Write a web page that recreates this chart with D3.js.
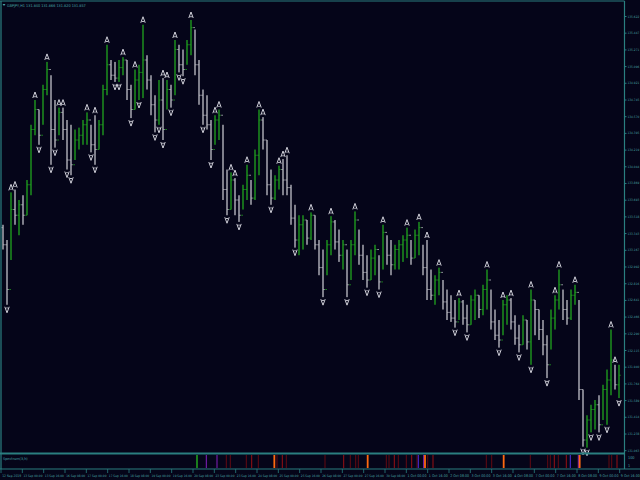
<!DOCTYPE html>
<html><head><meta charset="utf-8">
<script src="https://cdn.jsdelivr.net/npm/d3@7"></script>
<style>html,body{margin:0;padding:0;background:#050519;}svg{display:block;}</style>
</head><body>
<script>
// ---------- DATA ----------
const symbolTitle = "GBPJPY,H1  131.840 131.866 131.820 131.857";
const indicatorName = "Spectrum(3,h)";
// 3-hour bars starting 12 Sep 2019 08:00
const highs = [133.43,133.27,133.77,133.80,133.69,133.74,133.90,134.48,134.74,134.64,
134.90,135.14,135.00,134.74,134.66,134.66,134.53,134.48,134.43,134.45,
134.53,134.61,134.48,134.58,134.53,134.90,135.32,135.16,135.14,135.16,
135.19,135.16,134.90,135.06,135.11,135.53,135.21,135.00,134.79,134.95,
134.97,134.95,134.90,135.37,135.32,135.27,135.37,135.58,135.48,135.16,
134.85,134.79,134.53,134.58,134.64,134.48,134.01,133.98,133.92,133.74,
133.85,134.06,133.90,134.22,134.64,134.56,134.32,134.01,133.95,134.05,
134.12,134.16,133.85,133.64,133.53,133.53,133.48,133.56,133.53,133.27,
133.17,133.27,133.52,133.48,133.38,133.27,133.17,133.27,133.57,133.38,
133.22,133.11,133.17,133.22,133.11,133.43,133.32,133.27,133.22,133.27,
133.32,133.40,133.27,133.38,133.46,133.22,133.27,132.96,132.90,132.98,
132.85,132.75,132.69,132.64,132.66,132.64,132.59,132.69,132.75,132.69,
132.80,132.96,132.75,132.54,132.43,132.64,132.69,132.66,132.48,132.38,
132.48,132.43,132.75,132.64,132.54,132.43,132.27,132.54,132.69,132.96,
132.75,132.64,132.75,132.80,132.64,131.70,131.43,131.54,131.59,131.64,
131.75,131.91,132.33,131.96,131.96];
const lows = [133.17,132.59,133.06,133.43,133.32,133.43,133.53,133.74,134.37,134.27,
134.48,134.79,134.06,134.24,134.37,134.32,134.01,133.95,134.11,134.22,
134.27,134.27,134.19,134.06,134.22,134.37,134.79,134.95,134.93,134.93,
135.00,134.74,134.55,134.64,134.74,134.76,134.85,134.58,134.40,134.48,
134.32,134.64,134.66,134.79,135.03,134.99,135.11,135.21,135.00,134.69,
134.48,134.43,134.11,134.27,134.32,133.69,133.53,133.59,133.53,133.46,
133.59,133.69,133.64,133.69,133.95,134.22,133.74,133.64,133.69,133.80,
133.74,133.74,133.43,133.19,133.11,133.17,133.22,133.27,133.17,132.90,
132.67,132.90,133.11,133.17,133.04,132.96,132.67,132.85,133.11,133.01,
132.85,132.77,132.85,132.90,132.75,132.96,133.01,132.90,132.96,132.96,
133.04,133.08,133.01,133.08,133.11,132.90,132.64,132.64,132.59,132.69,
132.54,132.43,132.41,132.35,132.43,132.38,132.30,132.38,132.43,132.45,
132.48,132.54,132.33,132.22,132.14,132.27,132.38,132.33,132.17,132.09,
132.17,132.12,131.96,132.27,132.22,132.06,131.82,132.12,132.33,132.54,
132.43,132.38,132.43,132.59,131.59,131.10,131.09,131.25,131.28,131.25,
131.38,131.33,131.64,131.70,131.61];
const closes = [133.22,132.75,133.59,133.53,133.64,133.53,133.85,134.43,134.64,134.37,
134.85,135.06,134.43,134.32,134.61,134.43,134.11,134.06,134.32,134.37,
134.48,134.53,134.27,134.22,134.48,134.85,135.11,135.00,134.97,135.08,
135.16,134.85,134.64,134.95,135.03,135.16,134.95,134.69,134.53,134.74,
134.43,134.85,134.74,135.27,135.11,135.06,135.32,135.50,135.11,134.79,
134.58,134.48,134.22,134.53,134.58,133.80,133.59,133.90,133.69,133.53,
133.80,133.95,133.71,134.16,134.53,134.32,133.85,133.71,133.90,134.01,
133.90,133.82,133.50,133.27,133.43,133.48,133.29,133.53,133.22,132.98,
132.75,133.22,133.46,133.25,133.11,133.22,132.80,133.22,133.48,133.11,
132.93,132.85,133.08,133.17,132.83,133.35,133.11,133.01,133.17,133.22,
133.27,133.32,133.08,133.32,133.40,132.98,132.75,132.69,132.85,132.93,
132.62,132.51,132.45,132.41,132.62,132.45,132.38,132.64,132.69,132.54,
132.75,132.85,132.41,132.27,132.22,132.59,132.64,132.41,132.24,132.17,
132.43,132.20,132.64,132.54,132.33,132.17,131.96,132.45,132.64,132.80,
132.54,132.45,132.69,132.72,131.70,131.17,131.38,131.49,131.54,131.33,
131.70,131.80,132.01,131.75,131.85];
const firstOpen = 133.40;
const fractalUp = [2,3,8,11,14,15,21,23,26,30,33,35,40,41,43,47,53,54,57,58,61,64,65,69,70,71,77,82,88,95,101,104,106,109,114,121,125,127,132,138,139,143,152,153];
const fractalDown = [1,9,12,13,16,17,22,23,28,29,32,34,38,39,40,42,44,45,50,52,56,59,67,73,80,86,91,94,113,116,124,129,132,136,145,146,147,149,151,154];
const priceTicks = [135.622,135.447,135.271,135.096,134.921,134.745,134.570,134.395,134.219,134.044,133.869,133.693,133.518,133.343,133.167,132.992,132.816,132.641,132.466,132.290,132.115,131.940,131.764,131.589,131.414,131.238,131.063];
const timeLabels = ["12 Sep 2019","13 Sep 00:00","13 Sep 16:00","16 Sep 08:00","17 Sep 00:00","17 Sep 16:00","18 Sep 08:00","19 Sep 00:00","19 Sep 16:00","20 Sep 08:00","23 Sep 00:00","23 Sep 16:00","24 Sep 08:00","25 Sep 00:00","25 Sep 16:00","26 Sep 08:00","27 Sep 00:00","27 Sep 16:00","30 Sep 08:00","1 Oct 00:00","1 Oct 16:00","2 Oct 08:00","3 Oct 00:00","3 Oct 16:00","4 Oct 08:00","7 Oct 00:00","7 Oct 16:00","8 Oct 08:00","9 Oct 00:00","9 Oct 16:00"];
// indicator: hour index (H1 bars) and level
const specHours = [147,154,162,169,172,184,188,193,205,207,211,214,243,257,262,266,268,275,289,291,295,298,304,308,312,313,317,318,320,324,364,368,377,397,410,412,415,418,424,427,433,434,456,458,462];
const specLevels = [5,4,4,1,1,1,2,1,3,1,2,1,1,2,1,1,1,3,1,1,2,1,1,2,1,6,4,3,1,2,1,1,3,1,1,1,2,1,2,6,4,3,1,1,2];
const specTicks = ["100","1"];

// ---------- LAYOUT ----------
const W = 640, H = 480;
const axisCol = "#2a7f80", textCol = "#46a3a3";
const FS = 3.8;
const FONT = "'Liberation Sans Narrow','DejaVu Sans Condensed','Arial Narrow',sans-serif";
const svg = d3.select("body").append("svg").attr("width", W).attr("height", H)
  .style("font-family", FONT);
svg.append("rect").attr("width", W).attr("height", H).attr("fill", "#050519");

// shrink a text until its natural width fits
function fit(sel, maxW) {
  sel.each(function () {
    const len = this.getComputedTextLength();
    if (len > maxW) d3.select(this).attr("font-size", FS * maxW / len);
  });
}

const totalHours = 466.5;
const xh = d3.scaleLinear().domain([0, totalHours]).range([1, 623]);
const y = d3.scaleLinear().domain([131.063, 135.622]).range([450.2, 16]);
const ySub = d3.scaleLinear().domain([0, 1]).range([468, 455]);

const bars = highs.map((h, i) => ({
  i, high: h, low: lows[i], close: closes[i],
  open: i === 0 ? firstOpen : closes[i - 1]
}));
const upCol = "#1f9a1f", dnCol = "#b4b4bc";
const cx = i => xh(3 * i + 1.5);
const colOf = d => d.close >= d.open ? upCol : dnCol;

const plot = svg.append("g");
plot.selectAll("rect.bar").data(bars).enter().append("rect")
  .attr("x", d => cx(d.i) - 0.7).attr("width", 1.4)
  .attr("y", d => y(d.high)).attr("height", d => Math.max(1, y(d.low) - y(d.high)))
  .attr("fill", colOf);
plot.selectAll("line.o").data(bars).enter().append("line")
  .attr("x1", d => cx(d.i) - 1.8).attr("x2", d => cx(d.i))
  .attr("y1", d => y(d.open)).attr("y2", d => y(d.open))
  .attr("stroke", colOf).attr("stroke-width", 0.8);
plot.selectAll("line.c").data(bars).enter().append("line")
  .attr("x1", d => cx(d.i)).attr("x2", d => cx(d.i) + 1.8)
  .attr("y1", d => y(d.close)).attr("y2", d => y(d.close))
  .attr("stroke", colOf).attr("stroke-width", 0.8);

// fractals
const fc = "#e6e6ee";
plot.selectAll("path.fu").data(fractalUp).enter().append("path")
  .attr("transform", i => `translate(${cx(i)},${y(highs[i]) - 5})`)
  .attr("d", "M-2.2,3 L0,-3 L2.2,3 M-1,1.2 L0,2.2 L1,1.2")
  .attr("fill", "none").attr("stroke", fc).attr("stroke-width", 0.9);
plot.selectAll("path.fd").data(fractalDown).enter().append("path")
  .attr("transform", i => `translate(${cx(i)},${y(lows[i]) + 5})`)
  .attr("d", "M-2.2,-3 L0,3 L2.2,-3 M-1,-1.2 L0,-2.2 L1,-1.2")
  .attr("fill", "none").attr("stroke", fc).attr("stroke-width", 0.9);

// indicator subwindow
const levelColor = d3.scaleOrdinal().domain([1,2,3,4,5,6])
  .range(["#5c0a12", "#8c0f14", "#ff6a10", "#7a1fb0", "#1e8c1e", "#4a2ad0"]);
svg.append("g").selectAll("line").data(specHours).enter().append("line")
  .attr("x1", d => xh(d)).attr("x2", d => xh(d))
  .attr("y1", ySub(1)).attr("y2", ySub(0))
  .attr("stroke", (d, k) => levelColor(specLevels[k]))
  .attr("stroke-width", (d, k) => (specLevels[k] === 3 || specLevels[k] === 5) ? 1.8 : 1.1);

// frames
const frame = svg.append("g").attr("stroke", axisCol).attr("fill", "none");
frame.append("line").attr("x1", 0).attr("x2", 624.5).attr("y1", 1).attr("y2", 1).attr("stroke-width", 1.2);
frame.append("line").attr("x1", 1).attr("x2", 1).attr("y1", 1).attr("y2", 469).attr("stroke-width", 1.2);
frame.append("line").attr("x1", 624.5).attr("x2", 624.5).attr("y1", 1).attr("y2", 469).attr("stroke-width", 1.2);
frame.append("line").attr("x1", 0).attr("x2", 625).attr("y1", 453.5).attr("y2", 453.5).attr("stroke-width", 2);
frame.append("line").attr("x1", 0).attr("x2", 640).attr("y1", 469).attr("y2", 469).attr("stroke-width", 1.2);

// price axis
const yAxis = d3.axisRight(y).tickValues(priceTicks).tickFormat(d3.format(".3f")).tickSize(2).tickPadding(1);
const ga = svg.append("g").attr("transform", "translate(624.5,0)").call(yAxis);
ga.select(".domain").remove();
ga.selectAll("line").attr("stroke", axisCol);
ga.selectAll("text").attr("fill", textCol).attr("font-size", FS).attr("font-family", FONT);
fit(ga.selectAll("text"), 11.8);

// sub axis labels
svg.append("g").selectAll("text").data(specTicks).enter().append("text")
  .attr("x", 628).attr("y", (d, k) => k === 0 ? 458.5 : 466.5)
  .attr("fill", textCol).attr("font-size", FS).text(d => d);

// time axis
const tg = svg.append("g");
tg.selectAll("line").data(timeLabels).enter().append("line")
  .attr("x1", (d, k) => xh(16 * k)).attr("x2", (d, k) => xh(16 * k))
  .attr("y1", 469).attr("y2", 473).attr("stroke", axisCol).attr("stroke-width", 0.8);
const tt = tg.selectAll("text").data(timeLabels).enter().append("text")
  .attr("x", (d, k) => xh(16 * k) + 1.2).attr("y", 476.5)
  .attr("fill", textCol).attr("font-size", FS).text(d => d);
fit(tt, 19);

// titles
svg.append("path").attr("d", "M2.5,4 L5.5,4 L4,6 Z").attr("fill", textCol);
svg.append("text").attr("x", 7).attr("y", 6.5).attr("fill", textCol).attr("font-size", FS).text(symbolTitle);
svg.append("text").attr("x", 3).attr("y", 460).attr("fill", textCol).attr("font-size", FS).text(indicatorName);
</script>
</body></html>
